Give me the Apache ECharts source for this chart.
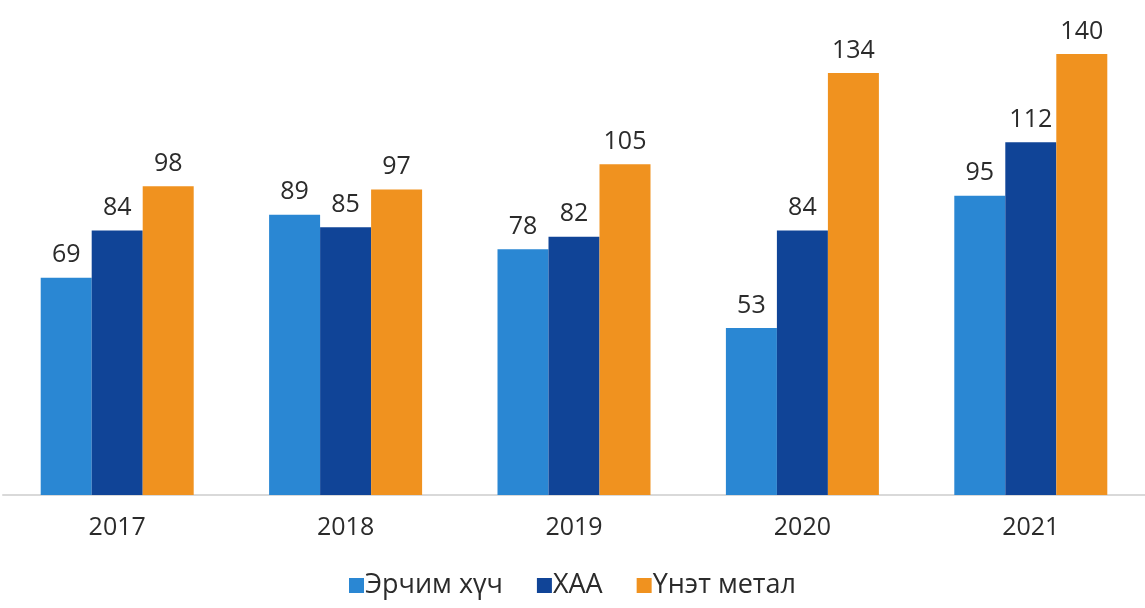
<!DOCTYPE html>
<html>
<head>
<meta charset="utf-8">
<style>
  html, body { margin: 0; padding: 0; background: #ffffff; }
  #chart { width: 1145px; height: 608px; }
</style>
<script src="https://cdn.jsdelivr.net/npm/echarts@6/dist/echarts.min.js"></script>
</head>
<body>
<div id="chart"></div>
<script>
// Years on the category axis
const years = ['2017', '2018', '2019', '2020', '2021'];

// Series names and values
const seriesNames = ['Эрчим хүч', 'ХАА', 'Үнэт метал'];
const energy = [69, 89, 78, 53, 95];
const agriculture = [84, 85, 82, 84, 112];
const preciousMetal = [98, 97, 105, 134, 140];

const colors = ['#2a87d3', '#104497', '#f0921f'];
const FONT = '"Open Sans", "Noto Sans", sans-serif';
const TEXT = '#2b2b2b';

const chart = echarts.init(document.getElementById('chart'), null, { renderer: 'canvas' });

function bar(name, data, color) {
  return {
    name: name,
    type: 'bar',
    data: data,
    barWidth: 51,
    barGap: '0%',
    itemStyle: { color: color },
    label: {
      show: true,
      position: 'top',
      distance: 10,
      color: TEXT,
      fontFamily: FONT,
      fontSize: 25
    }
  };
}

chart.setOption({
  backgroundColor: '#ffffff',
  animation: false,
  color: colors,
  grid: { left: 3, top: 22.5, width: 1146, bottom: 113, containLabel: false },
  legend: {
    bottom: 4,
    left: 'center',
    icon: 'rect',
    itemWidth: 15,
    itemHeight: 15,
    itemGap: 34,
    textStyle: { color: TEXT, fontFamily: FONT, fontSize: 27, padding: [0, 0, 0, -4] },
    data: seriesNames
  },
  xAxis: {
    type: 'category',
    data: years,
    axisLine: { show: true, lineStyle: { color: '#d9d9d9', width: 2 } },
    axisTick: { show: false },
    axisLabel: { color: TEXT, fontFamily: FONT, fontSize: 25, margin: 20 }
  },
  yAxis: {
    type: 'value',
    min: 0,
    max: 150,
    show: false,
    splitLine: { show: false }
  },
  series: [
    bar(seriesNames[0], energy, colors[0]),
    bar(seriesNames[1], agriculture, colors[1]),
    bar(seriesNames[2], preciousMetal, colors[2])
  ]
});
</script>
</body>
</html>
